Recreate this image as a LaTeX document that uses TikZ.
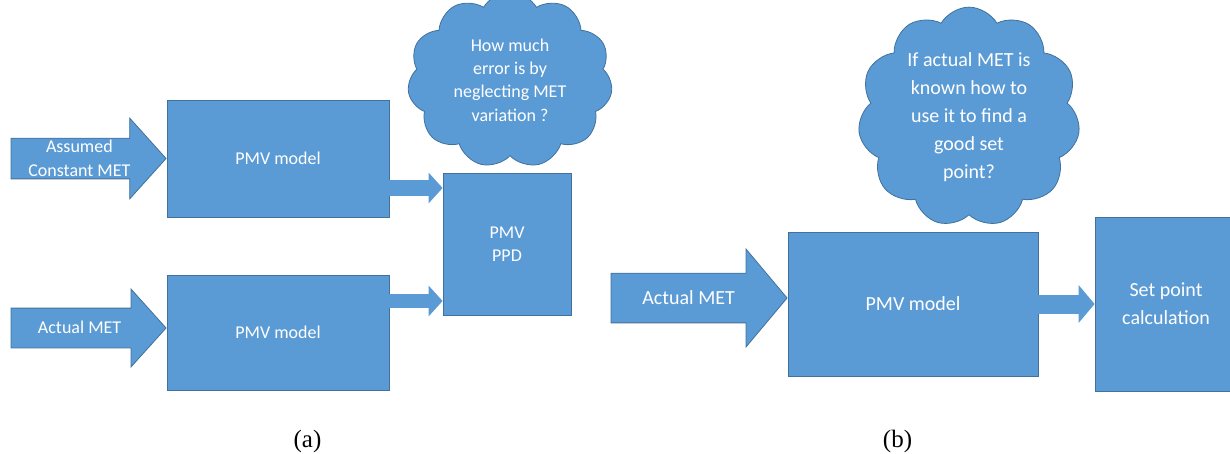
\documentclass[tikz,border=0pt]{standalone}
\usepackage{fontspec}
\setmainfont{Carlito}
\newfontfamily\capfont{Liberation Serif}
\usetikzlibrary{shapes.arrows,shapes.symbols,arrows.meta,positioning}
\definecolor{boxblue}{HTML}{5B9BD5}
\definecolor{boxline}{HTML}{41719C}

\begin{document}
\begin{tikzpicture}[
  x=1pt, y=-1pt,
  fa/.style={font=\fontsize{18}{23.3}\selectfont},
  fb/.style={font=\fontsize{20}{28}\selectfont},
  blk/.style={rectangle, fill=boxblue, draw=boxline, line width=0.8pt, text=white, align=center, inner sep=0pt},
  inarr/.style={single arrow, fill=boxblue, draw=boxline, line width=0.8pt, text=white, align=center, inner xsep=0pt, anchor=tip},
  cld/.style={cloud, cloud puffs=11, cloud puff arc=120, cloud ignores aspect, fill=boxblue, draw=boxline, line width=0.8pt, text=white, align=center, inner xsep=0pt, inner ysep=6pt},
  conn/.style={draw=boxblue},
  captxt/.style={font=\capfont\fontsize{25}{28}\selectfont},
]
\useasboundingbox (0,0) rectangle (1230,453);

% (a) assumed against actual MET
\node[blk, fa, minimum width=222pt, minimum height=117pt] (pmvA) at (278,158.5) {PMV model};
\node[blk, fa, minimum width=222pt, minimum height=115pt] (pmvB) at (278,332.5) {PMV model};
\node[blk, fa, minimum width=128pt, minimum height=142pt] (ppd) at (507,244) {PMV\\PPD};
\node[inarr, fa, minimum height=155pt, single arrow head extend=20pt, single arrow tip angle=96,
  text height=35.3pt, text depth=0pt, inner ysep=2.3pt] (inA) at (pmvA.west) {Assumed\\Constant MET};
\node[inarr, fa, minimum height=155pt, single arrow head extend=19pt, single arrow tip angle=96,
  text height=11.6pt, text depth=0pt, inner ysep=13.7pt] (inB) at ([yshift=4.5pt]pmvB.west) {Actual MET};
\draw[conn, line width=16pt, -{Triangle[length=14pt,width=30pt]}] ([yshift=-29.5pt]pmvA.east) -- ([yshift=-29.5pt]pmvA.east -| ppd.west);
\draw[conn, line width=14pt, -{Triangle[length=14pt,width=30pt]}] ([yshift=31.5pt]pmvB.east) -- ([yshift=31.5pt]pmvB.east -| ppd.west);
\node[cld, fa, minimum width=205pt, minimum height=150pt, inner ysep=14pt] (qA) at (510,80) {How much\\error is by\\neglecting MET\\variation ?};

% (b) actual MET used for the set point
\node[blk, fb, minimum width=250pt, minimum height=144pt] (pmvC) at (913,304) {PMV model};
\node[blk, fb, minimum width=142pt, minimum height=174pt] (setp) at (1166,304) {Set point\\calculation};
\node[inarr, fb, minimum height=176pt, single arrow head extend=24pt, single arrow tip angle=100,
  text height=12.9pt, text depth=0pt, inner ysep=18pt] (inC) at ([yshift=6pt]pmvC.west) {Actual MET};
\draw[conn, line width=19pt, -{Triangle[length=16pt,width=37pt]}] (pmvC.east) -- (setp.west);
\node[cld, fb, minimum width=222pt, minimum height=186pt] (qB) at (969,117) {If actual MET is\\known how to\\use it to find a\\good set\\point?};

\node[captxt] (capA) at (307.5,441) {(a)};
\node[captxt] (capB) at (897.5,441) {(b)};
\end{tikzpicture}
\end{document}
